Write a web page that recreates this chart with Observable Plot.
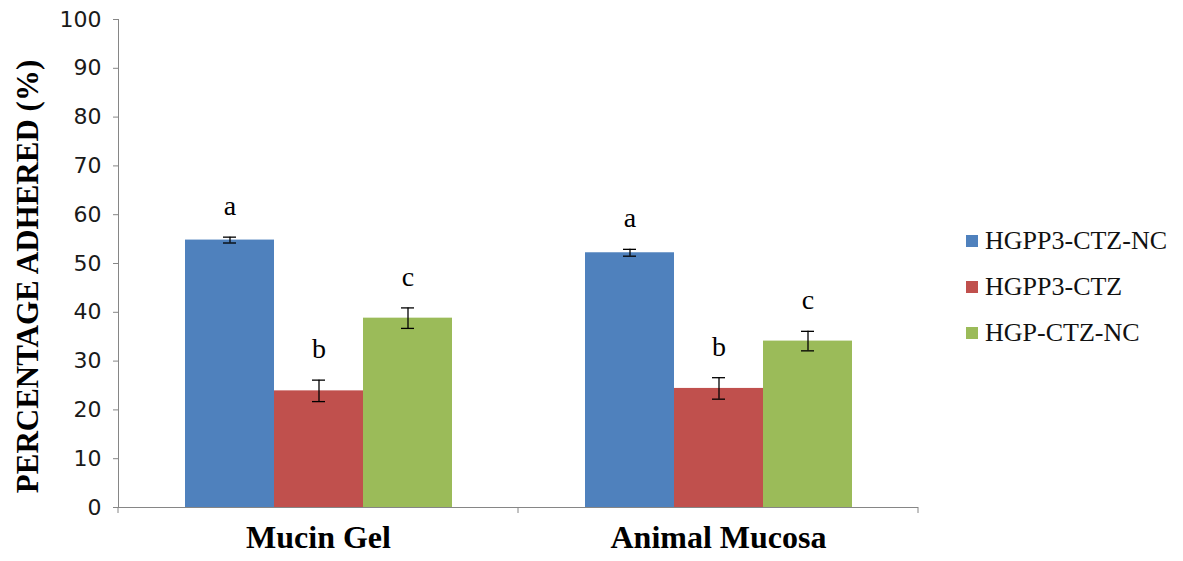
<!DOCTYPE html>
<html>
<head>
<meta charset="utf-8">
<script src="https://cdn.jsdelivr.net/npm/d3@7"></script>
<script src="https://cdn.jsdelivr.net/npm/@observablehq/plot@0.6"></script>
<style>
  html, body { margin: 0; padding: 0; background: #fff; }
  #wrap { position: relative; width: 1183px; height: 561px; }
  #legend { position: absolute; left: 966px; top: 218px; font-family: "Liberation Serif", "Times New Roman", serif; font-size: 26px; color: #111; }
  #legend .row { display: flex; align-items: center; height: 46px; }
  #legend .sw { width: 12px; height: 12px; margin-right: 7px; }
</style>
</head>
<body>
<div id="wrap"><div id="legend"></div></div>
<script>
const categories = ["Mucin Gel", "Animal Mucosa"];
const series = ["HGPP3-CTZ-NC", "HGPP3-CTZ", "HGP-CTZ-NC"];
const mucinValues = [54.8, 23.9, 38.8];
const mucinErrors = [0.6, 2.2, 2.1];
const mucosaValues = [52.2, 24.4, 34.1];
const mucosaErrors = [0.7, 2.2, 2.0];
const letters = ["a", "b", "c"];
const colors = ["#4F81BD", "#C0504D", "#9BBB59"];
const yTicks = [0, 10, 20, 30, 40, 50, 60, 70, 80, 90, 100];
const yTitle = "PERCENTAGE ADHERED (%)";

const rows = [];
series.forEach((s, i) => rows.push({cat: categories[0], series: s, value: mucinValues[i], err: mucinErrors[i], letter: letters[i]}));
series.forEach((s, i) => rows.push({cat: categories[1], series: s, value: mucosaValues[i], err: mucosaErrors[i], letter: letters[i]}));

const serif = "Liberation Serif, Times New Roman, serif";
const gray = "#868686";

const chart = Plot.plot({
  width: 1183,
  height: 561,
  marginLeft: 118,
  marginRight: 265,
  marginTop: 19,
  marginBottom: 54,
  style: {fontFamily: "DejaVu Sans, sans-serif", fontSize: "22px", color: "#1a1a1a", background: "transparent"},
  fx: {domain: categories, padding: 0, axis: null, label: null},
  x: {domain: series, paddingInner: 0, paddingOuter: 0.74, axis: null},
  y: {domain: [0, 100], axis: null},
  color: {domain: series, range: colors},
  marks: [
    Plot.barY(rows, {fx: "cat", x: "series", y: "value", fill: "series"}),
    Plot.ruleY([0], {stroke: gray, strokeWidth: 1}),
    Plot.frame({anchor: "left", facetAnchor: "left", stroke: gray}),
    Plot.axisY({ticks: yTicks, tickSize: 5, tickPadding: 12, stroke: gray, fill: "#1a1a1a", label: null, fontSize: 22}),
    Plot.ruleX(rows, {fx: "cat", x: "series", y1: d => d.value - d.err, y2: d => d.value + d.err, stroke: "black", strokeWidth: 1.3}),
    Plot.tickY(rows, {fx: "cat", x: "series", y: d => d.value + d.err, stroke: "black", strokeWidth: 1.3, insetLeft: 38, insetRight: 38}),
    Plot.tickY(rows, {fx: "cat", x: "series", y: d => d.value - d.err, stroke: "black", strokeWidth: 1.3, insetLeft: 38, insetRight: 38}),
    Plot.text(rows, {fx: "cat", x: "series", y: d => d.value + d.err, text: "letter", dy: -22, lineAnchor: "bottom", fontFamily: serif, fontSize: 28, fill: "black"}),
    Plot.text(categories, {fx: d => d, text: d => d, frameAnchor: "bottom", dy: 40, fontFamily: serif, fontWeight: "bold", fontSize: 32, fill: "black"}),
    Plot.text([yTitle], {fx: () => categories[0], text: d => d, frameAnchor: "left", textAnchor: "middle", rotate: -90, dx: -90, dy: 13, fontFamily: serif, fontWeight: "bold", fontSize: 31, fill: "black"})
  ]
});

// boundary tick marks of the category axis, placed with Plot's fx scale
const fx = chart.scale("fx");
const yScale = chart.scale("y");
const y0 = yScale.apply(0);
const edges = [fx.apply(categories[0]), fx.apply(categories[1]), fx.apply(categories[1]) + fx.bandwidth];
d3.select(chart).append("g").selectAll("line").data(edges).join("line")
  .attr("x1", d => d).attr("x2", d => d)
  .attr("y1", y0).attr("y2", y0 + 6)
  .attr("stroke", gray);

document.getElementById("wrap").prepend(chart);
chart.style.position = "absolute";
chart.style.left = "0";
chart.style.top = "0";

const legend = d3.select("#legend");
series.forEach((s, i) => {
  const row = legend.append("div").attr("class", "row");
  row.append("div").attr("class", "sw").style("background", colors[i]);
  row.append("span").text(s);
});
</script>
</body>
</html>
